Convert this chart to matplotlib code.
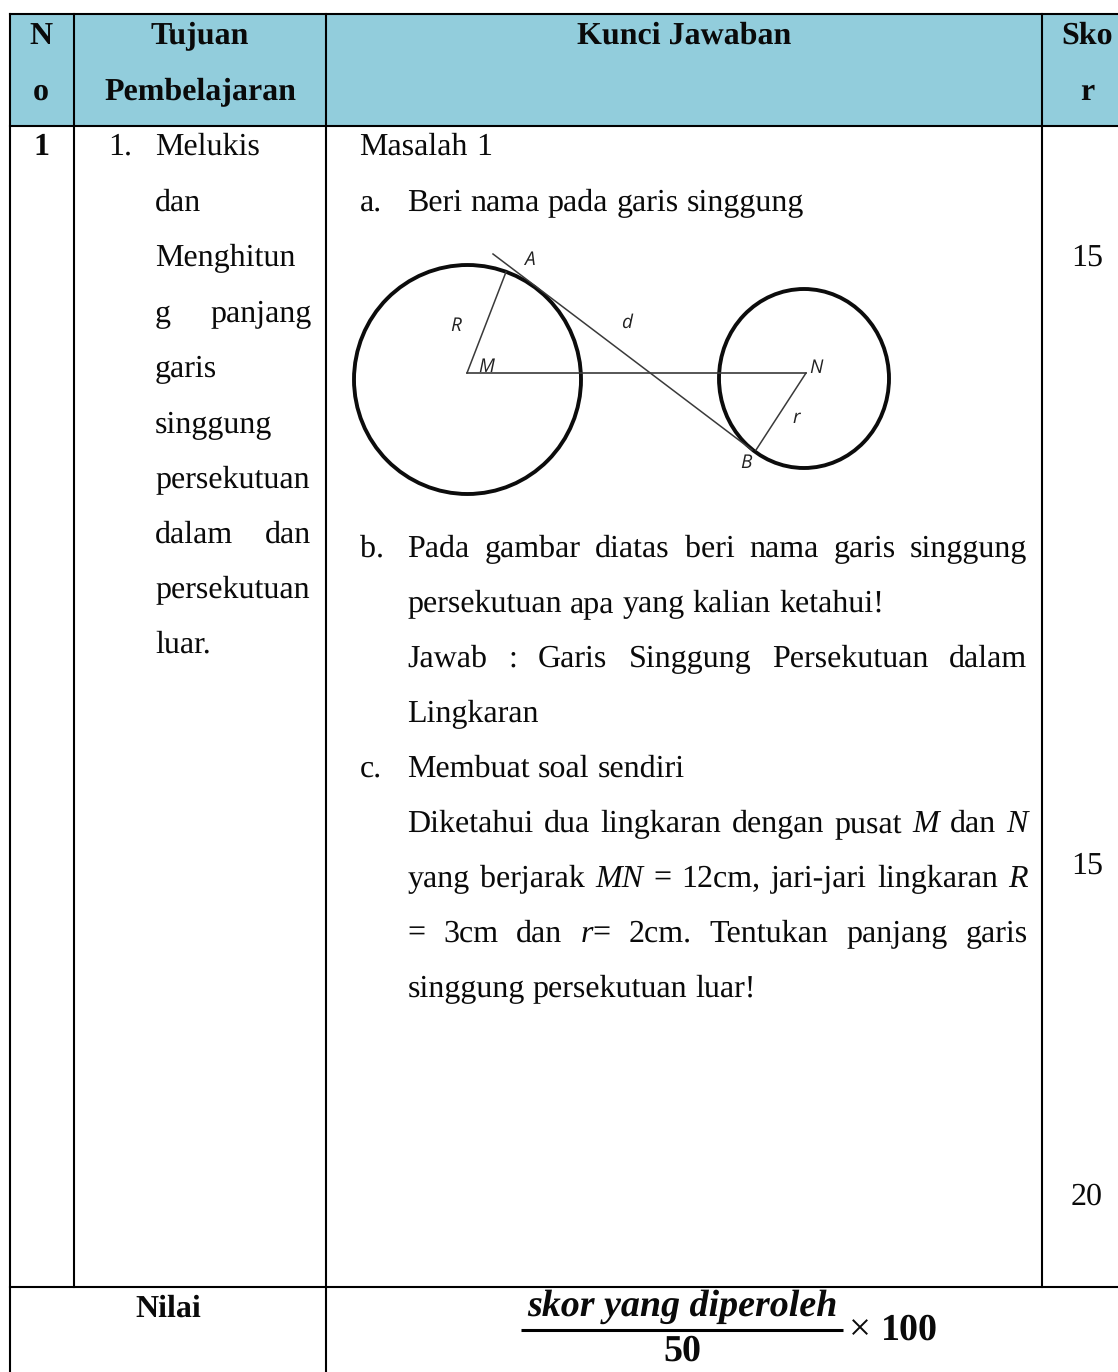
import matplotlib
matplotlib.use("Agg")
import matplotlib.pyplot as plt
from matplotlib.patches import Ellipse, Rectangle

plt.rcParams["text.hinting"] = "no_hinting"
plt.rcParams["text.hinting_factor"] = 1

W, H = 1118, 1372
SERIF = "Liberation Serif"
FS = 23.0
HEADER = "#92CDDC"
INK = "#0a0a0a"

# table structure
col_x = [10, 74, 326, 1042]
row_y = [14, 126, 1287]

# header cells: text, centre x, centre baseline
header_cells = [("N", 41, 44), ("o", 41, 100), ("Tujuan", 200, 44),
                ("Pembelajaran", 200, 100), ("Kunci Jawaban", 684, 44),
                ("Sko", 1087, 44), ("r", 1087, 100)]

# left column
row_no = "1"
objective_no = "1."
objective_lines = [("Melukis", False, 155), ("dan", False, 211), ("Menghitun", False, 266),
                   ("g panjang", True, 322), ("garis", False, 377), ("singgung", False, 433),
                   ("persekutuan", False, 488), ("dalam dan", True, 543),
                   ("persekutuan", False, 598), ("luar.", False, 653)]

# answer column: text, x, baseline, justified; '*' = italic piece, '|' joins pieces
answer_lines = [("Masalah 1", 359.5, 155, False),
                ("a.", 359.5, 211, False),
                ("Beri nama pada garis singgung", 407.5, 211, False),
                ("b.", 359.5, 557, False),
                ("Pada gambar diatas beri nama garis singgung", 407.5, 557, True),
                ("persekutuan apa yang kalian ketahui!", 407.5, 612, False),
                ("Jawab : Garis Singgung Persekutuan dalam", 407.5, 667, True),
                ("Lingkaran", 407.5, 722, False),
                ("c.", 359.5, 777, False),
                ("Membuat soal sendiri", 407.5, 777, False),
                ("Diketahui dua lingkaran dengan pusat *M dan *N", 407.5, 832, True),
                ("yang berjarak *MN = 12cm, jari-jari lingkaran *R", 407.5, 887, True),
                ("= 3cm dan *r|= 2cm. Tentukan panjang garis", 407.5, 942, True),
                ("singgung persekutuan luar!", 407.5, 997, False)]

# scores
scores = ["15", "15", "20"]
score_baselines = [266, 874, 1205]

# diagram
big_circle = (467.5, 379.5, 227, 229)
small_circle = (804, 378.5, 170, 179)
segments = [((467, 373), (806, 373), 1.2), ((493, 254), (752, 450), 1.1),
            ((467, 373), (506, 272), 1.1), ((806, 373), (756, 450), 1.1)]
diagram_labels = [("A", 529, 260), ("R", 456, 326), ("d", 627, 323), ("M", 486, 367),
                  ("N", 816, 368), ("r", 796, 418), ("B", 746, 463)]

# footer
nilai_label = "Nilai"
formula_top = "skor yang diperoleh"
formula_bottom = "50"
formula_tail = "100"

fig = plt.figure(figsize=(W / 100, H / 100), dpi=100, facecolor="white")
ax = fig.add_axes([0, 0, 1, 1])
ax.set_xlim(0, W)
ax.set_ylim(H, 0)
ax.axis("off")
rend = fig.canvas.get_renderer()


def txt(x, y, s, italic=False, bold=False, ha="left", fs=FS):
    return ax.text(x, y, s, family=SERIF, fontsize=fs, color=INK, ha=ha, va="baseline",
                   style="italic" if italic else "normal",
                   weight="bold" if bold else "normal")


def width(s, italic=False):
    t = txt(0, 0, s, italic)
    w = t.get_window_extent(rend).width
    t.remove()
    return w


def pieces(word):
    return [(p.lstrip("*"), p.startswith("*")) for p in word.split("|")]


def draw_line(s, x, y, right=None):
    words = s.split(" ")
    ws = [sum(width(p, i) for p, i in pieces(w)) for w in words]
    gap = width("a a") - width("aa")
    if right is not None and len(words) > 1:
        gap = (right - x - sum(ws)) / (len(words) - 1)
    cx = x
    for w, wd in zip(words, ws):
        px = cx
        for p, i in pieces(w):
            txt(px, y, p, i)
            px += width(p, i)
        cx += wd + gap


# header fill
ax.add_patch(Rectangle((col_x[0], row_y[0]), W - col_x[0], row_y[1] - row_y[0],
                       facecolor=HEADER, edgecolor="none", zorder=0))

# grid
LW = 1.5
ax.plot([col_x[0], W], [row_y[0]] * 2, color="black", lw=LW)
ax.plot([col_x[0], W], [row_y[1]] * 2, color="black", lw=LW)
ax.plot([col_x[0], W], [row_y[2]] * 2, color="black", lw=LW)
ax.plot([col_x[0]] * 2, [row_y[0], H], color="black", lw=LW)
ax.plot([col_x[1]] * 2, [row_y[0], row_y[2]], color="black", lw=LW)
ax.plot([col_x[2]] * 2, [row_y[0], H], color="black", lw=LW)
ax.plot([col_x[3]] * 2, [row_y[0], row_y[2]], color="black", lw=LW)

for s, x, y in header_cells:
    txt(x, y, s, bold=True, ha="center")

txt(41, 155, row_no, bold=True, ha="center")
txt(108.5, 155, objective_no)
for s, just, y in objective_lines:
    draw_line(s, 155, y, 311.5 if just else None)

for s, x, y, just in answer_lines:
    draw_line(s, x, y, 1027.5 if just else None)

for s, y in zip(scores, score_baselines):
    txt(1087, y, s, ha="center")

# diagram
for cx, cy, w, h in (big_circle, small_circle):
    ax.add_patch(Ellipse((cx, cy), w, h, fill=False, edgecolor="#0c0c0c", lw=2.8))
for a, b, lw in segments:
    ax.plot([a[0], b[0]], [a[1], b[1]], color="#3a3a3a", lw=lw)
for s, x, y in diagram_labels:
    ax.text(x, y, s, family="Open Sans", style="italic", fontsize=14, weight="medium",
            color="#222222", ha="center", va="center")

# footer
txt(168, 1317, nilai_label, bold=True, ha="center")
txt(682, 1316, formula_top, italic=True, bold=True, ha="center", fs=27.5)
ax.plot([521, 843], [1330, 1330], color="black", lw=2.2, solid_capstyle="butt")
txt(682, 1361, formula_bottom, bold=True, ha="center", fs=27)
txt(849, 1340, "\u00d7", ha="left", fs=28, bold=False)
txt(881, 1340, formula_tail, bold=True, ha="left", fs=27)

fig.savefig("out.png", dpi=100)
